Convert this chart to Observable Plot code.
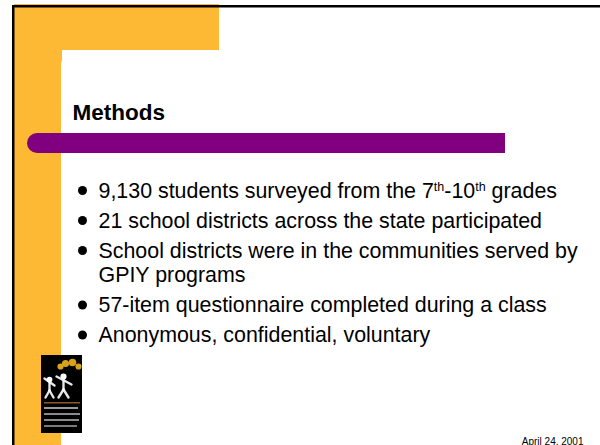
<!DOCTYPE html>
<html>
<head>
<meta charset="utf-8">
<script src="https://cdn.jsdelivr.net/npm/d3@7"></script>
<script src="https://cdn.jsdelivr.net/npm/@observablehq/plot@0.6"></script>
<style>
  html, body { margin: 0; padding: 0; background: #fff; overflow: hidden; }
  #chart svg { display: block; }
</style>
</head>
<body>
<div id="chart"></div>
<script>
// ---- content ----
const titleText = ["Methods"];
const bulletParagraphs = [
  ["9,130 students surveyed from the 7th-10th grades"],
  ["21 school districts across the state participated"],
  ["School districts were in the communities served by", "GPIY programs"],
  ["57-item questionnaire completed during a class"],
  ["Anonymous, confidential, voluntary"]
];
const dateText = ["April 24, 2001"];

// ---- layout (slide decoration) ----
const W = 600, H = 445;
const ORANGE = "#FDB934", PURPLE = "#800080";
const orangeBands = [
  {x1: 14, x2: 219, y1: 4, y2: 50},
  {x1: 14, x2: 62, y1: 4, y2: H}
];
const whiteCard = [{x1: 61, x2: W + 40, y1: 50, y2: H + 40}];
const purpleCap = [{x1: 27, x2: 60, y1: 133, y2: 153}];
const purpleBody = [{x1: 40, x2: 505, y1: 133, y2: 153}];
const borders = [
  {x1: 12, x2: 14.5, y1: 5, y2: H},
  {x1: 12, x2: W, y1: 5, y2: 7.5}
];
const logoBox = [{x1: 41, x2: 82, y1: 355, y2: 433}];
const logoSun = [{x: 60, y: 366, r: 3}, {x: 65, y: 363, r: 4}, {x: 72, y: 362, r: 4.5}, {x: 78, y: 366, r: 3}];
const logoHeads = [{x: 49, y: 379, r: 2.6}, {x: 63, y: 376, r: 3}];
const logoLimbs = [
  {x1: 49, y1: 382, x2: 49, y2: 390}, {x1: 44, y1: 378, x2: 54, y2: 385},
  {x1: 49, y1: 390, x2: 45, y2: 397}, {x1: 49, y1: 390, x2: 53, y2: 397},
  {x1: 63, y1: 379, x2: 63, y2: 389}, {x1: 56, y1: 376, x2: 71, y2: 384},
  {x1: 63, y1: 389, x2: 58, y2: 397}, {x1: 63, y1: 389, x2: 68, y2: 397}
];
const logoLines = [
  {x1: 44, x2: 80, y1: 402, y2: 403.5, c: "#8a5a20"},
  {x1: 44, x2: 78, y1: 407, y2: 409, c: "#9a9a9a"},
  {x1: 44, x2: 80, y1: 413, y2: 415, c: "#8a8a8a"},
  {x1: 44, x2: 79, y1: 419, y2: 421, c: "#8a8a8a"},
  {x1: 44, x2: 77, y1: 425, y2: 427, c: "#7a7a7a"}
];

const firstBaseline = 197, paraGap = 30, lineGap = 24.5;
const textX = 98, bulletX = 82;
const rows = [];
let extra = 0;
bulletParagraphs.forEach((lines, p) => {
  lines.forEach((t, k) => {
    rows.push({text: t, y: firstBaseline + p * paraGap + (extra + k) * lineGap, first: k === 0});
  });
  extra += lines.length - 1;
});

const svg = Plot.plot({
  width: W,
  height: H,
  margin: 0,
  x: {domain: [0, W], range: [0, W], axis: null},
  y: {domain: [0, H], range: [0, H], axis: null},
  style: {background: "white", fontFamily: "'Liberation Sans', Arial, Helvetica, sans-serif", color: "black"},
  marks: [
    Plot.rect(orangeBands, {x1: "x1", x2: "x2", y1: "y1", y2: "y2", fill: ORANGE}),
    Plot.rect(whiteCard, {x1: "x1", x2: "x2", y1: "y1", y2: "y2", fill: "white", rx: 15, clip: true}),
    Plot.rect(borders, {x1: "x1", x2: "x2", y1: "y1", y2: "y2", fill: "black"}),
    Plot.rect(purpleCap, {x1: "x1", x2: "x2", y1: "y1", y2: "y2", fill: PURPLE, rx: 10}),
    Plot.rect(purpleBody, {x1: "x1", x2: "x2", y1: "y1", y2: "y2", fill: PURPLE}),
    Plot.text(titleText, {x: 72, y: 119, text: d => d, textAnchor: "start", lineAnchor: "bottom",
      fontSize: 22.5, fontWeight: "bold", fill: "black"}),
    Plot.dot(rows.filter(d => d.first), {x: bulletX, y: d => d.y - 7, r: 4.5, fill: "black", stroke: null}),
    Plot.text(rows, {x: textX, y: "y", text: "text", textAnchor: "start", lineAnchor: "bottom",
      fontSize: 21.4, fill: "black"}),
    Plot.text(dateText, {x: 583, y: 444, text: d => d, textAnchor: "end", lineAnchor: "bottom",
      fontSize: 10, fill: "black"}),
    // logo
    Plot.rect(logoBox, {x1: "x1", x2: "x2", y1: "y1", y2: "y2", fill: "black"}),
    Plot.dot(logoSun, {x: "x", y: "y", r: "r", fill: "#D9A21B", stroke: null}),
    Plot.link(logoLimbs, {x1: "x1", y1: "y1", x2: "x2", y2: "y2", stroke: "white", strokeWidth: 2.4, strokeLinecap: "round", strokeOpacity: 0.9}),
    Plot.dot(logoHeads, {x: "x", y: "y", r: "r", fill: "white", stroke: null}),
    Plot.rect(logoLines, {x1: "x1", x2: "x2", y1: "y1", y2: "y2", fill: "c"})
  ]
});

// superscript ordinals (7th, 10th)
svg.querySelectorAll("text").forEach(t => {
  const s = t.textContent;
  if (!/\d(st|nd|rd|th)\b/.test(s) || t.children.length) return;
  const re = /(\d)(st|nd|rd|th)\b/g;
  const ns = "http://www.w3.org/2000/svg";
  t.textContent = "";
  let last = 0, m, shifted = false;
  const add = (str, sup) => {
    const ts = document.createElementNS(ns, "tspan");
    ts.textContent = str;
    if (sup) { ts.setAttribute("dy", "-7"); ts.setAttribute("font-size", "12.5"); shifted = true; }
    else if (shifted) { ts.setAttribute("dy", "7"); shifted = false; }
    t.appendChild(ts);
  };
  while ((m = re.exec(s))) {
    add(s.slice(last, m.index + 1), false);
    add(m[2], true);
    last = m.index + m[0].length;
  }
  add(s.slice(last), false);
});

document.getElementById("chart").appendChild(svg);
</script>
</body>
</html>
